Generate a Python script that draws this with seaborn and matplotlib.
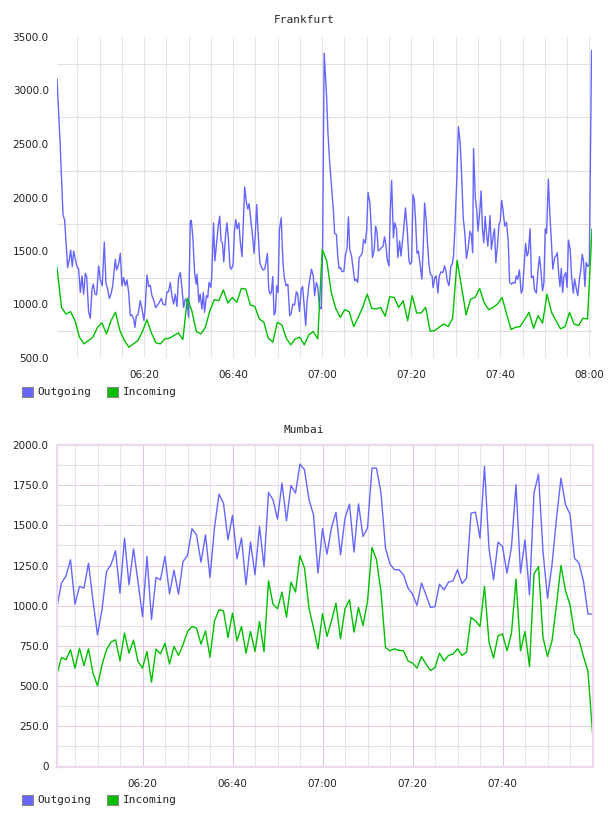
import numpy as np
import matplotlib
matplotlib.use("Agg")
import matplotlib.pyplot as plt
from matplotlib.patches import Patch
import seaborn as sns

# --- Frankfurt, outgoing (minutes after 06:00, value) ---
fra_out_min = [
    0.45, 1.12, 1.80, 2.17, 2.84, 3.22, 3.52, 3.89, 4.19, 4.56, 4.94, 5.31, 5.69, 6.06, 6.43, 6.81,
    7.11, 7.56, 7.93, 8.31, 8.60, 8.98, 9.35, 9.80, 10.18, 10.62, 11.07, 11.45, 11.82, 12.20, 12.57,
    12.94, 13.54, 13.84, 14.29, 14.67, 15.04, 15.41, 15.79, 16.16, 16.54, 16.91, 17.28, 17.66, 17.96,
    18.26, 18.63, 19.15, 19.53, 19.98, 20.28, 20.65, 21.02, 21.40, 21.77, 22.22, 22.60, 22.97, 23.42,
    23.87, 24.24, 24.77, 25.14, 25.51, 25.89, 26.26, 26.64, 27.01, 27.39, 27.76, 28.13, 28.51, 28.88,
    29.26, 29.63, 30.00, 30.38, 30.6, 30.97, 31.35, 31.7, 31.9, 32.3, 32.6, 33.0, 33.3, 33.6, 34.0,
    34.3, 34.6, 35.0, 35.2, 35.6, 35.9, 36.3, 36.7, 37.0, 37.3, 37.6, 37.9, 38.3, 38.6, 38.9, 39.3,
    39.6, 40.0, 40.3, 40.6, 40.9, 41.3, 41.6, 42.0, 42.3, 42.6, 43.0, 43.3, 43.6, 44.0, 44.3, 44.7,
    45.0, 45.3, 45.6, 46.0, 46.3, 46.7, 47.1, 47.4, 47.7, 48.0, 48.3, 48.6, 48.9, 49.2, 49.5, 49.8,
    50.1, 50.4, 50.8, 51.2, 51.5, 51.9, 52.3, 52.7, 53.0, 53.4, 53.8, 54.2, 54.5, 54.9, 55.3, 55.6,
    55.9, 56.3, 56.6, 57.0, 57.3, 57.6, 58.0, 58.3, 58.7, 59.0, 59.4, 59.8, 60.1, 60.45, 61.0, 61.3,
    61.7, 62.1, 62.5, 62.8, 63.2, 63.5, 63.8, 64.1, 64.5, 64.9, 65.2, 65.6, 65.9, 66.2, 66.6, 67.0,
    67.3, 67.6, 68.0, 68.3, 68.6, 69.0, 69.3, 69.7, 70.0, 70.3, 70.7, 71.0, 71.3, 71.7, 72.0, 72.3,
    72.6, 73.0, 73.3, 73.7, 74.0, 74.3, 74.6, 75.0, 75.3, 75.6, 76.0, 76.3, 76.7, 77.0, 77.4, 77.7,
    78.0, 78.3, 78.7, 79.1, 79.5, 79.8, 80.1, 80.4, 80.7, 81.0, 81.3, 81.6, 82.0, 82.4, 82.7, 83.0,
    83.3, 83.7, 84.0, 84.3, 84.7, 84.9, 85.3, 85.6, 86.0, 86.3, 86.7, 87.1, 87.5, 87.8, 88.1, 88.5,
    88.9, 89.2, 89.5, 89.8, 90.2, 90.6, 91.0, 91.3, 91.7, 92.0, 92.4, 92.8, 93.2, 93.5, 93.8, 94.0,
    94.4, 94.7, 95.0, 95.4, 95.7, 96.0, 96.3, 96.6, 96.9, 97.2, 97.5, 97.7, 98.0, 98.4, 98.7, 99.0,
    99.4, 99.7, 100.0, 100.3, 100.6, 101.0, 101.4, 101.8, 102.1, 102.5, 102.9, 103.3, 103.6, 103.9,
    104.3, 104.7, 105.0, 105.3, 105.7, 106.0, 106.3, 106.7, 107.0, 107.4, 107.7, 108.1, 108.5, 108.8,
    109.1, 109.5, 109.8, 110.1, 110.4, 110.8, 111.1, 111.5, 111.8, 112.2, 112.5, 112.8, 113.1, 113.4,
    113.7, 114.0, 114.3, 114.7, 115.0, 115.3, 115.7, 116.0, 116.4, 116.7, 117.1, 117.4, 117.8, 118.1,
    118.4, 118.7, 119.0, 119.3, 119.7, 120.0, 120.5,
]
fra_out = [
    3111, 2538, 1841, 1788, 1345, 1422, 1509, 1354, 1500, 1422, 1354, 1330, 1113, 1267, 1097, 1292,
    1261, 927, 871, 1144, 1190, 1097, 1091, 1360, 1230, 1175, 1583, 1199, 1144, 1057, 1097,
    1168, 1422, 1323, 1376, 1478, 1175, 1252, 1175, 1230, 1113, 896, 902, 865, 787,
    896, 902, 1035, 958, 849, 989, 1274, 1168, 1181, 1082, 1035, 970, 989, 1020,
    1057, 1004, 995, 1119, 1119, 1206, 1082, 1004, 1097, 982, 1252, 1298, 1159, 973,
    1051, 1035, 880, 1769, 1788, 1624, 1298, 1190, 1283, 1020, 1097, 958, 1113, 927, 1082,
    1066, 1206, 1159, 1267, 1763, 1407, 1577, 1748, 1825, 1593, 1577, 1398, 1639, 1763, 1639, 1345,
    1330, 1376, 1686, 1794, 1707, 1763, 1593, 1447, 1769, 2098, 1949, 1893, 1943, 1779, 1670, 1478,
    1670, 1934, 1686, 1391, 1354, 1323, 1330, 1398, 1478, 1144, 1097, 1113, 1261, 902, 933, 1175,
    1113, 1701, 1810, 1391, 1252, 1175, 1190, 896, 911, 1004, 995, 1119, 1097, 933, 1144, 1168,
    1020, 803, 1020, 1175, 1252, 1330, 1267, 1082, 1206, 1168, 973, 958, 1515, 3349, 2940, 2600,
    2321, 2104, 1887, 1664, 1655, 1453, 1336, 1345, 1305, 1314, 1453, 1531, 1819, 1515, 1453, 1323,
    1221, 1237, 1206, 1438, 1453, 1478, 1608, 1571, 1701, 2048, 1955, 1732, 1438, 1515, 1732, 1686,
    1500, 1515, 1531, 1546, 1633, 1562, 1422, 1360, 1872, 2160, 1624, 1763, 1707, 1438, 1593, 1453,
    1577, 1701, 1903, 1701, 1407, 1376, 1398, 2027, 1980, 1763, 1478, 1500, 1376, 1237, 1540, 1949,
    1825, 1546, 1367, 1283, 1267, 1159, 1252, 1267, 1106, 1267, 1305, 1298, 1360, 1314, 1221, 1175,
    1360, 1376, 1453, 1701, 2135, 2662, 2507, 2228, 1800, 1686, 1429, 1531, 1686, 1655, 1484, 2460,
    1996, 1887, 1686, 1872, 2061, 1701, 1577, 1825, 1670, 1546, 1701, 1831, 1515, 1639, 1707, 1391,
    1562, 1748, 1779, 1974, 1887, 1732, 1769, 1577, 1206, 1190, 1206, 1199, 1267, 1237,
    1323, 1106, 1137, 1330, 1571, 1453, 1484, 1707, 1252, 1267, 1137, 1106, 1330, 1447,
    1330, 1128, 1206, 1707, 1664, 2172, 1872, 1577, 1330, 1438, 1453, 1484, 1298, 1168,
    1336, 1113, 1261, 1298, 1159, 1602, 1515, 1267, 1106, 1237, 1144, 1082, 1243, 1330,
    1469, 1407, 1168, 1391, 1354, 1376, 3374,
]

# --- Frankfurt, incoming (about one sample per minute) ---
fra_in = [
    1345, 973, 911, 933, 849, 694, 632, 663, 694, 787, 828, 725, 849, 927, 756, 663,
    601, 632, 663, 747, 858, 734, 642, 632, 679, 685, 710, 734, 673, 1060, 940,
    747, 725, 787, 942, 1045, 1035, 1137, 1014, 1066, 1020, 1150, 1144, 995, 982, 865,
    834, 685, 648, 834, 809, 685, 623, 679, 694, 623, 716, 747, 679, 1515, 1407,
    1113, 964, 880, 952, 933, 793, 880, 973, 1097, 964, 958, 973, 890, 1072, 1066,
    973, 1035, 849, 1082, 921, 921, 973, 750, 756, 787, 818, 793, 871, 1413, 1160,
    902, 1051, 1066, 1150, 1020, 952, 973, 1004, 1066, 911, 766, 787, 793, 858, 927,
    778, 896, 825, 1097, 927, 849, 772, 793, 927, 818, 803, 871, 865, 1707,
]
fra_in_min = np.linspace(0.45, 120.6, len(fra_in))

# --- Mumbai, one sample per minute from 06:01 to 08:00 ---
mum_min = np.arange(1, 121)
mum_out = [
    995, 1141, 1186, 1286, 1010, 1120, 1110, 1265, 1030, 819, 975, 1213, 1255, 1342, 1078, 1420,
    1130, 1354, 1151, 933, 1307, 913, 1176, 1161, 1307, 1074, 1221, 1072, 1275, 1313,
    1479, 1441, 1271, 1441, 1176, 1487, 1694, 1638, 1410, 1562, 1292, 1421, 1130, 1396, 1193,
    1493, 1244, 1705, 1659, 1539, 1763, 1529, 1748, 1701, 1881, 1846, 1659, 1566, 1203, 1479,
    1321, 1487, 1582, 1317, 1545, 1632, 1334, 1634, 1431, 1483, 1856, 1856, 1701, 1358, 1259,
    1224, 1224, 1193, 1110, 1072, 1002, 1141, 1068, 989, 995, 1134, 1099, 1147, 1155, 1224,
    1137, 1172, 1576, 1582, 1421, 1867, 1358, 1161, 1396, 1369, 1203, 1369, 1753, 1203, 1410,
    1068, 1701, 1819, 1338, 1047, 1255, 1545, 1794, 1628, 1570, 1296, 1265, 1151, 948, 948,
]
mum_in = [
    575, 678, 664, 726, 612, 736, 628, 732, 581, 502, 633, 726, 774, 788, 657, 830,
    705, 786, 653, 612, 715, 525, 730, 701, 767, 637, 747, 691, 757, 840,
    871, 861, 761, 844, 680, 906, 975, 968, 802, 954, 782, 871, 705, 840, 715,
    902, 715, 1155, 1010, 981, 1085, 929, 1147, 1085, 1311, 1234, 985, 861, 732, 950,
    809, 906, 1016, 794, 981, 1037, 836, 989, 877, 1027, 1363, 1286, 1089, 740, 720,
    732, 722, 720, 657, 643, 612, 684, 637, 597, 616, 705, 657, 691, 699, 732,
    691, 711, 927, 906, 871, 1120, 774, 674, 813, 825, 720, 830, 1166, 720, 840,
    622, 1197, 1244, 803, 684, 782, 1006, 1251, 1093, 1006, 830, 788, 684, 591, 208,
]

fra_ticks = [20, 40, 60, 80, 100, 120]
fra_tick_labels = ["06:20", "06:40", "07:00", "07:20", "07:40", "08:00"]
mum_ticks = [20, 40, 60, 80, 100]
mum_tick_labels = ["06:20", "06:40", "07:00", "07:20", "07:40"]

BLUE = "#6666ff"
GREEN = "#00bf00"

sns.set_style("white")
plt.rcParams["font.family"] = ["DejaVu Sans"]

W, H = 608, 816
fig = plt.figure(figsize=(W / 100, H / 100), dpi=100)
ax1 = fig.add_axes([57 / W, 1 - 358 / H, 535 / W, 321 / H])
ax2 = fig.add_axes([57 / W, 1 - 766.5 / H, 535.5 / W, 321.5 / H])

tick_font = dict(fontsize=7.5, color="#222222")
mono = dict(family="DejaVu Sans Mono", size=8)


def fmt(v):
    return "0" if v == 0 else f"{v:.1f}"


# Frankfurt
for m in range(5, 121, 5):
    ax1.axvline(m, color="#e6e6e6", lw=0.8, zorder=0)
for h in range(750, 3500, 500):
    ax1.axhline(h, color="#e0e0e0", lw=0.8, zorder=0)
sns.lineplot(x=fra_out_min, y=fra_out, color=BLUE, lw=1.0, ax=ax1)
sns.lineplot(x=fra_in_min, y=fra_in, color=GREEN, lw=1.0, ax=ax1)
ax1.set_xlim(0.45, 120.6)
ax1.set_ylim(500, 3500)
ax1.set_xticks(fra_ticks, fra_tick_labels, **tick_font)
yt = list(range(500, 3501, 500))
ax1.set_yticks(yt, [fmt(v) for v in yt], **tick_font)
sns.despine(ax=ax1, left=True, bottom=True)

# Mumbai
for m in range(5, 120, 5):
    major = m % 20 == 0
    ax2.axvline(m, color="#dcc3e2" if major else "#e8e4ea", lw=0.8, zorder=0)
for h in range(125, 2000, 125):
    major = h % 250 == 0
    ax2.axhline(h, color="#e8cfe8" if major else "#e4e1e6", lw=0.8, zorder=0)
sns.lineplot(x=mum_min, y=mum_out, color=BLUE, lw=1.0, ax=ax2)
sns.lineplot(x=mum_min, y=mum_in, color=GREEN, lw=1.0, ax=ax2)
ax2.set_xlim(1, 120)
ax2.set_ylim(0, 2000)
ax2.set_xticks(mum_ticks, mum_tick_labels, **tick_font)
yt2 = list(range(0, 2001, 250))
ax2.set_yticks(yt2, [fmt(v) for v in yt2], **tick_font)
for s in ax2.spines.values():
    s.set_color("#ecd8ec")
    s.set_linewidth(1.6)

for ax in (ax1, ax2):
    ax.set_xlabel("")
    ax.set_ylabel("")
    ax.tick_params(axis="y", length=0, pad=6)
    ax.tick_params(axis="x", length=0, pad=9)
    ax.grid(False)

fig.text(0.5, 1 - 20 / H, "Frankfurt", ha="center", va="center", **mono)
fig.text(0.5, 1 - 430 / H, "Mumbai", ha="center", va="center", **mono)

handles = [Patch(facecolor=BLUE, edgecolor="#888888", lw=0.8),
           Patch(facecolor=GREEN, edgecolor="#888888", lw=0.8)]
for yc in (1 - 392 / H, 1 - 800 / H):
    fig.legend(handles, ["Outgoing", "Incoming"], loc="center left",
               bbox_to_anchor=(22 / W, yc), ncol=2, frameon=False,
               handlelength=1.0, handleheight=1.0, handletextpad=0.4,
               columnspacing=1.4, borderpad=0, borderaxespad=0, prop=mono)

fig.savefig("out.png", dpi=100)
